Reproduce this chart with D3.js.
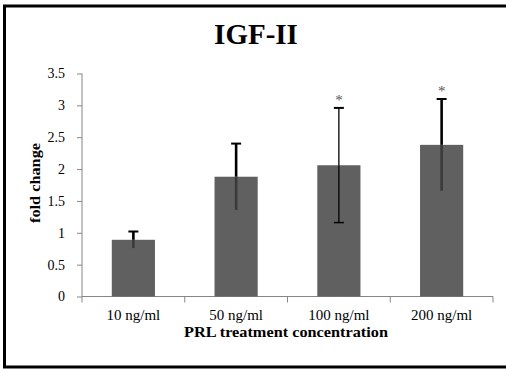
<!DOCTYPE html>
<html><head><meta charset="utf-8">
<script src="https://cdn.jsdelivr.net/npm/d3@7"></script>
<style>html,body{margin:0;padding:0;background:#fff;}svg{display:block;}</style>
</head><body>
<script>
const categories = ["10 ng/ml", "50 ng/ml", "100 ng/ml", "200 ng/ml"];
const values = [0.89, 1.88, 2.06, 2.38];
const errors = [0.13, 0.52, 0.90, 0.72];
const significant = [false, false, true, true];
const yTicks = [0, 0.5, 1, 1.5, 2, 2.5, 3, 3.5];

const W = 506, H = 369;
const svg = d3.select("body").append("svg").attr("width", W).attr("height", H);
const serif = "'Liberation Serif','Times New Roman',serif";

svg.append("rect").attr("x", 4.5).attr("y", 6).attr("width", 520).attr("height", 361)
  .attr("fill", "none").attr("stroke", "#000").attr("stroke-width", 3);

const x = d3.scaleBand().domain(categories).range([82, 493]).paddingInner(0.58).paddingOuter(0.29);
const y = d3.scaleLinear().domain([0, 3.5]).range([296.5, 73.5]);
const axisColor = "#868686";

// y axis
const yAxis = svg.append("g").attr("transform", "translate(82,0)")
  .call(d3.axisLeft(y).tickValues(yTicks).tickSize(5).tickPadding(12).tickFormat(d3.format("")));
yAxis.attr("font-family", serif);
yAxis.select(".domain").attr("stroke", axisColor).attr("d", `M0,${y(3.5)}V${y(0)}`);
yAxis.selectAll(".tick line").attr("stroke", axisColor);
yAxis.selectAll(".tick text").attr("font-family", serif).attr("font-size", 14).attr("fill", "#000");

// x axis
const xEdges = d3.range(categories.length + 1).map(i => 82 + i * (493 - 82) / categories.length);
const xg = svg.append("g");
xg.append("line").attr("x1", 82).attr("x2", 493).attr("y1", y(0)).attr("y2", y(0))
  .attr("stroke", axisColor).attr("stroke-width", 1);
xg.selectAll("line.t").data(xEdges).join("line").attr("class", "t")
  .attr("x1", d => d).attr("x2", d => d).attr("y1", y(0)).attr("y2", y(0) + 6)
  .attr("stroke", axisColor);
xg.selectAll("text").data(categories).join("text")
  .attr("x", d => x(d) + x.bandwidth() / 2).attr("y", 320)
  .attr("text-anchor", "middle").attr("font-family", serif).attr("font-size", 15)
  .text(d => d);

// bars
svg.selectAll("rect.bar").data(values).join("rect").attr("class", "bar")
  .attr("x", (d, i) => x(categories[i])).attr("width", x.bandwidth())
  .attr("y", d => y(d)).attr("height", d => y(0) - y(d)).attr("fill", "#606060");

// error bars
values.forEach((v, i) => {
  const cx = x(categories[i]) + x.bandwidth() / 2;
  const sw = i === 2 ? 1.3 : 2.6;
  const g = svg.append("g");
  g.append("line").attr("x1", cx).attr("x2", cx).attr("y1", y(v + errors[i])).attr("y2", y(v))
    .attr("stroke", "#000").attr("stroke-width", sw);
  g.append("line").attr("x1", cx).attr("x2", cx).attr("y1", y(v)).attr("y2", y(v - errors[i]))
    .attr("stroke", i === 2 ? "#000" : "#3a3a3a").attr("stroke-width", sw);
  g.append("line").attr("x1", cx - 5).attr("x2", cx + 5).attr("y1", y(v + errors[i])).attr("y2", y(v + errors[i]))
    .attr("stroke", "#000").attr("stroke-width", 2);
  if (i === 2) {
    g.append("line").attr("x1", cx - 5).attr("x2", cx + 5).attr("y1", y(v - errors[i])).attr("y2", y(v - errors[i]))
      .attr("stroke", "#000").attr("stroke-width", 1.5);
  }
  if (significant[i]) {
    g.append("text").attr("x", cx).attr("y", y(v + errors[i]) - 3)
      .attr("text-anchor", "middle").attr("font-family", serif).attr("font-size", 15)
      .attr("fill", "#555").text("*");
  }
});

// title
svg.append("text").attr("x", 256).attr("y", 44).attr("text-anchor", "middle")
  .attr("font-family", serif).attr("font-weight", "bold").attr("font-size", 29).text("IGF-II");

// axis titles
svg.append("text").attr("x", 286).attr("y", 337).attr("text-anchor", "middle")
  .attr("font-family", serif).attr("font-weight", "bold").attr("font-size", 15)
  .attr("textLength", 204).attr("lengthAdjust", "spacingAndGlyphs")
  .text("PRL treatment concentration");
svg.append("text").attr("transform", "translate(40,183) rotate(-90)").attr("text-anchor", "middle")
  .attr("font-family", serif).attr("font-weight", "bold").attr("font-size", 15)
  .attr("textLength", 80).attr("lengthAdjust", "spacingAndGlyphs")
  .text("fold change");
</script>
</body></html>
